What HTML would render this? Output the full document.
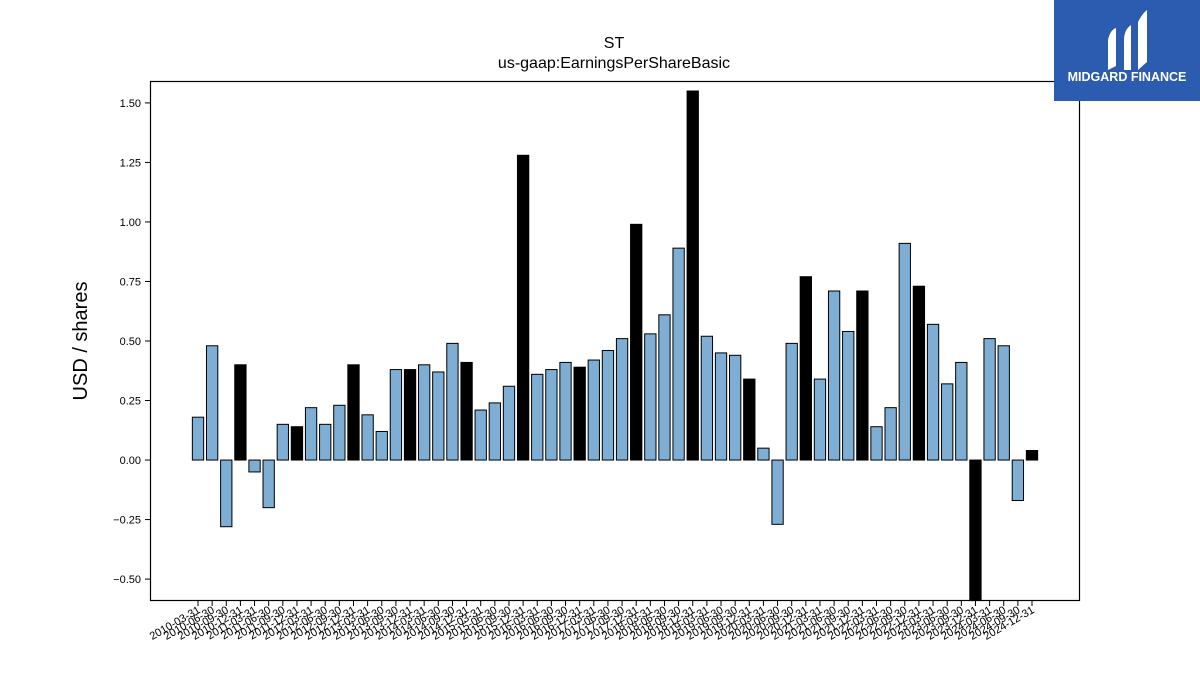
<!DOCTYPE html>
<html><head><meta charset="utf-8">
<style>
body{margin:0;background:#fff;}
svg text{font-family:"Liberation Sans","DejaVu Sans",sans-serif;}
</style></head>
<body>
<svg id="chart" width="1200" height="675" xmlns="http://www.w3.org/2000/svg">
  <rect width="1200" height="675" fill="#fff"/>
  <text x="614" y="48" text-anchor="middle" font-size="16">ST</text>
  <text x="614" y="68" text-anchor="middle" font-size="16">us-gaap:EarningsPerShareBasic</text>
  <text transform="translate(87,341) rotate(-90)" text-anchor="middle" font-size="20">USD / shares</text>
  <g id="bars"></g>
  <g id="yaxis"></g>
  <g id="xaxis"></g>
  <rect x="150.5" y="81.5" width="929" height="519" fill="none" stroke="#000" stroke-width="1.2"/>
  <g>
    <rect x="1054" y="0" width="146" height="101" fill="#2b5cb0"/>
    <path d="M1108 70 L1108 40 Q1110 30 1116 28 L1116 66 Z" fill="#fff"/>
    <path d="M1124 40 Q1124 30 1131 25 L1131 70 L1124 70 Z" fill="#fff"/>
    <path d="M1138 70 L1138 22 Q1142 14 1147 10 L1147 62 Z" fill="#fff"/>
    <text x="1127" y="81" text-anchor="middle" font-size="12.5" font-weight="bold" fill="#fff">MIDGARD FINANCE</text>
  </g>
</svg>
<script>
const categories = [];
(function(){const q=["03-31","06-30","09-30","12-31"];for(let y=2010;y<=2024;y++)for(const d of q)categories.push(y+"-"+d);})();
const epsValues = [0.18,0.48,-0.28,0.40,-0.05,-0.20,0.15,0.14,0.22,0.15,0.23,0.40,0.19,0.12,0.38,0.38,0.40,0.37,0.49,0.41,0.21,0.24,0.31,1.28,0.36,0.38,0.41,0.39,0.42,0.46,0.51,0.99,0.53,0.61,0.89,1.55,0.52,0.45,0.44,0.34,0.05,-0.27,0.49,0.77,0.34,0.71,0.54,0.71,0.14,0.22,0.91,0.73,0.57,0.32,0.41,-0.59,0.51,0.48,-0.17,0.04];
const yTicks = [-0.50,-0.25,0.00,0.25,0.50,0.75,1.00,1.25,1.50];
const NS="http://www.w3.org/2000/svg";
const plotTop=81, plotBottom=601;
const yMin=-0.592, yMax=1.592;
function yScale(v){return plotBottom-(v-yMin)/(yMax-yMin)*(plotBottom-plotTop);}
const x0=198, step=(1032-198)/59;
function xScale(i){return x0+i*step;}
const bw=step*0.8;
const bars=document.getElementById('bars');
epsValues.forEach((v,i)=>{
  const r=document.createElementNS(NS,'rect');
  
  
  const y1=Math.max(yScale(Math.max(v,0)),plotTop), y2=Math.min(yScale(Math.min(v,0)),plotBottom);
  r.setAttribute('x',xScale(i)-bw/2);r.setAttribute('y',y1);
  r.setAttribute('width',bw);r.setAttribute('height',Math.max(y2-y1,0));
  const q4=categories[i].endsWith('12-31');
  r.setAttribute('fill',q4?'#000':'#7eaed3');
  r.setAttribute('stroke','#000');r.setAttribute('stroke-width','1');
  bars.appendChild(r);
});
const ya=document.getElementById('yaxis');
yTicks.forEach(t=>{
  const y=yScale(t);
  const l=document.createElementNS(NS,'line');
  
  
  l.setAttribute('x1',145);l.setAttribute('x2',150);l.setAttribute('y1',y);l.setAttribute('y2',y);l.setAttribute('stroke','#000');
  ya.appendChild(l);
  const tx=document.createElementNS(NS,'text');
  
  
  tx.setAttribute('x',141);tx.setAttribute('y',y+4);tx.setAttribute('text-anchor','end');tx.setAttribute('font-size','11');
  tx.textContent=(t<0?'\u2212':'')+Math.abs(t).toFixed(2);
  ya.appendChild(tx);
});
const xa=document.getElementById('xaxis');
categories.forEach((c,i)=>{
  const x=xScale(i);
  const l=document.createElementNS(NS,'line');
  
  
  l.setAttribute('x1',x);l.setAttribute('x2',x);l.setAttribute('y1',601);l.setAttribute('y2',606);l.setAttribute('stroke','#000');
  xa.appendChild(l);
  const tx=document.createElementNS(NS,'text');
  
  
  tx.setAttribute('transform','translate('+(x+3)+',612) rotate(-30)');
  tx.setAttribute('text-anchor','end');tx.setAttribute('font-size','11');
  tx.textContent=c;
  xa.appendChild(tx);
});
</script>
</body></html>
